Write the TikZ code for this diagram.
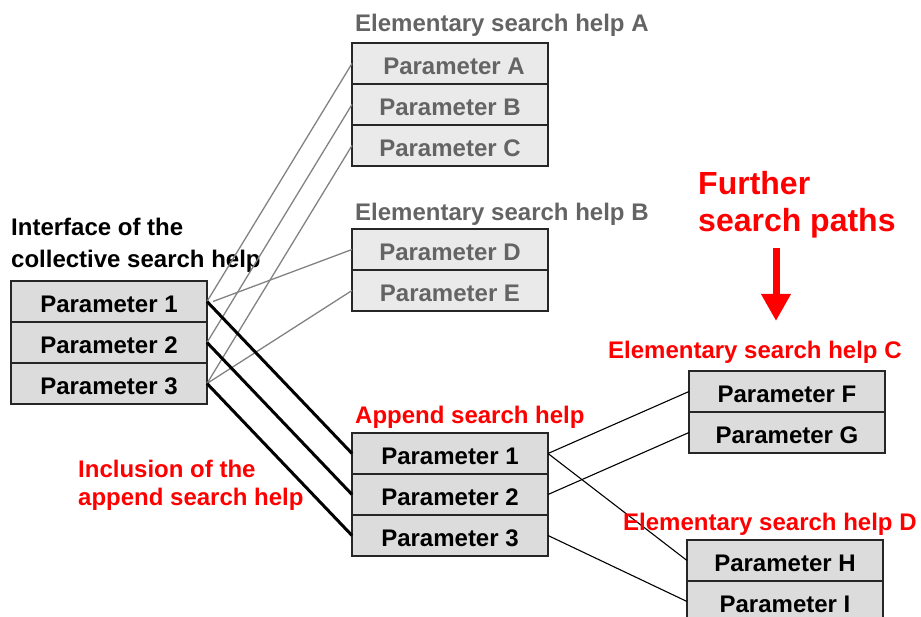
\documentclass[tikz,border=0pt]{standalone}
\usepackage{fontspec}
\setmainfont{Liberation Sans}
\usepackage{tikz}
\usetikzlibrary{positioning,arrows.meta}
\definecolor{parfill}{RGB}{220,220,220}
\definecolor{elemfill}{RGB}{234,234,234}
\definecolor{elemtext}{RGB}{100,100,100}
\definecolor{linkgray}{RGB}{130,130,130}
\definecolor{hired}{RGB}{255,0,0}

\begin{document}
\begin{tikzpicture}[x=1pt, y=-1pt,
  par/.style={draw=black!85, line width=1.2pt, fill=parfill, minimum width=196pt,
    minimum height=41pt, inner sep=0pt, outer sep=0pt, text height=22pt, text depth=0pt,
    font=\fontsize{24}{27}\selectfont\bfseries},
  elempar/.style={par, fill=elemfill, text=elemtext},
  ttl/.style={anchor=base west, inner sep=0pt, align=left,
    font=\fontsize{24}{28}\selectfont\bfseries},
  redttl/.style={ttl, text=hired},
  grayttl/.style={ttl, text=elemtext},
  graylink/.style={draw=linkgray, line width=1.3pt},
  boldlink/.style={line width=3pt},
  thinlink/.style={line width=1.1pt}]
  \useasboundingbox (0,0) rectangle (921,617);
  \clip (0,0) rectangle (921,617);
  % interface of the collective search help
  \node[ttl, font=\fontsize{24}{32}\selectfont\bfseries] (iftitle) at (11,268)
    {Interface of the\\collective search help};
  \node[par, anchor=north west] (if1) at (11,281) {Parameter 1};
  \node[par, below=0pt of if1] (if2) {Parameter 2};
  \node[par, below=0pt of if2] (if3) {Parameter 3};
  % elementary search helps A and B (grey)
  \node[grayttl] (atitle) at (355,32) {Elementary search help A};
  \node[elempar, anchor=north west] (pA) at (352,43) {\hspace{8pt}Parameter A};
  \node[elempar, below=0pt of pA] (pB) {Parameter B};
  \node[elempar, below=0pt of pB] (pC) {Parameter C};
  \node[grayttl] (btitle) at (355,221) {Elementary search help B};
  \node[elempar, anchor=north west] (pD) at (352,229) {Parameter D};
  \node[elempar, below=0pt of pD] (pE) {Parameter E};
  % append search help
  \node[redttl] (aptitle) at (355,424) {Append search help};
  \node[par, anchor=north west] (ap1) at (352,433) {Parameter 1};
  \node[par, below=0pt of ap1] (ap2) {Parameter 2};
  \node[par, below=0pt of ap2] (ap3) {Parameter 3};
  \node[redttl] (incl) at (78,505) {Inclusion of the\\append search help};
  % elementary search helps C and D
  \node[redttl] (ctitle) at (608,359) {Elementary search help C};
  \node[par, anchor=north west] (pF) at (689,371) {Parameter F};
  \node[par, below=0pt of pF] (pG) {Parameter G};
  \node[par, anchor=north west] (pH) at (687,540) {Parameter H};
  \node[par, below=0pt of pH] (pI) {Parameter I};
  % further search paths
  \node[redttl, font=\fontsize{32}{37}\selectfont\bfseries] (further) at (698,232)
    {Further\\search paths};
  \coordinate (arrtop) at (776,248);
  \coordinate (arrtip) at (776,321);
  \draw[hired, line width=7pt, -{Triangle[width=28pt,length=27pt]}] (arrtop) -- (arrtip);
  % links to A and B
  \draw[graylink] (if1.east) -- (pA.west);
  \draw[graylink] (if2.east) -- (pB.west);
  \draw[graylink] (if3.east) -- (pC.west);
  \draw[graylink] (if1.east) ++(6,0) -- (pD.west);
  \draw[graylink] (if3.east) -- (pE.west);
  % inclusion of the append search help
  \draw[boldlink] (if1.east) -- (ap1.west);
  \draw[boldlink] (if2.east) -- (ap2.west);
  \draw[boldlink] (if3.east) -- (ap3.west);
  % links from the append search help
  \draw[thinlink] (ap1.east) -- (pF.west);
  \draw[thinlink] (ap1.east) -- (pH.west);
  \draw[thinlink] (ap2.east) -- (pG.west);
  \draw[thinlink] (ap3.east) -- (pI.west);
  % label drawn last, over the crossing line
  \node[redttl] (dtitle) at (623,530) {Elementary search help D};
\end{tikzpicture}
\end{document}
